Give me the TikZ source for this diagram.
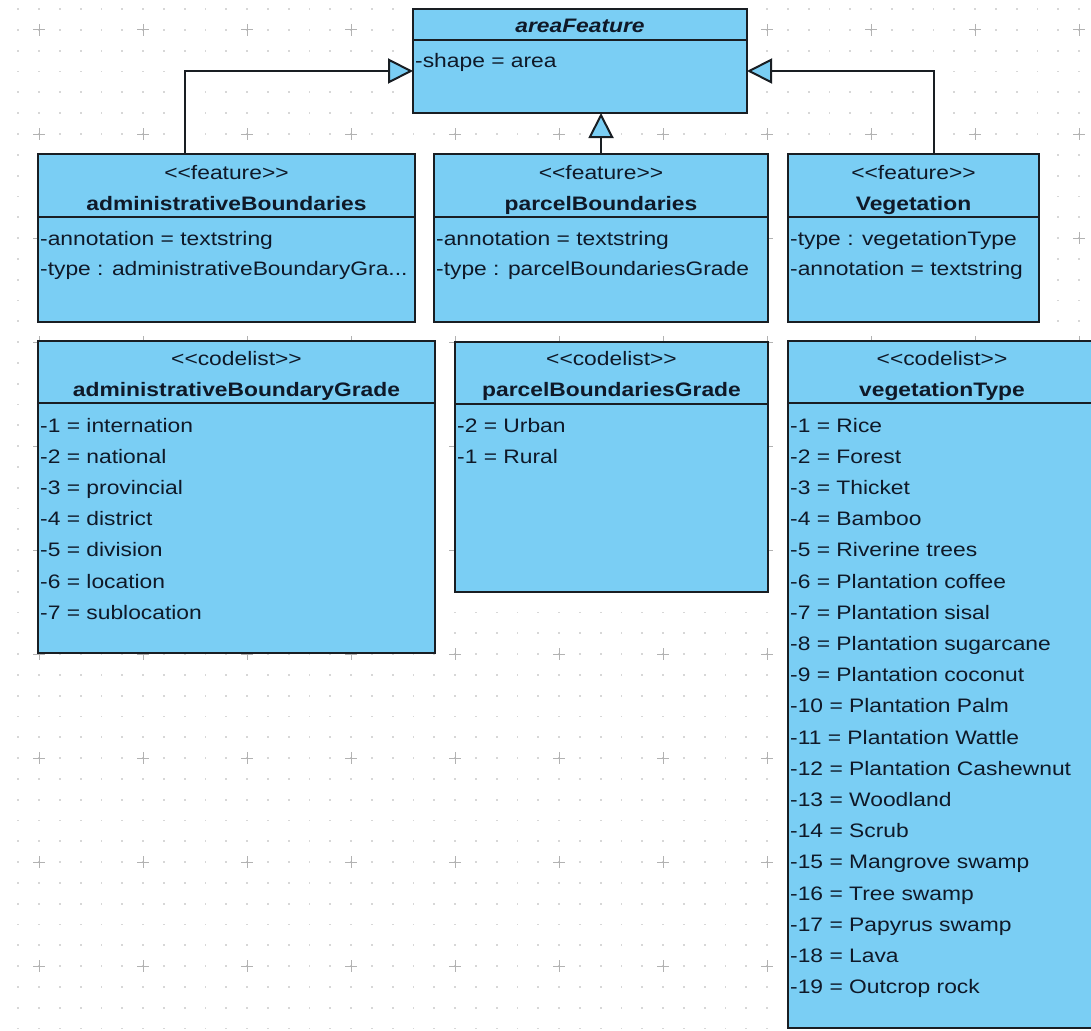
\documentclass[tikz,border=0pt]{standalone}
\usepackage{fontspec}
\setmainfont[FakeStretch=1.17]{Liberation Sans}
\usetikzlibrary{arrows.meta}
\definecolor{umlblue}{RGB}{122,206,244}
\definecolor{umlline}{RGB}{25,30,35}
\definecolor{umltext}{RGB}{15,25,40}
\definecolor{gridgray}{RGB}{215,215,215}

\tikzset{
  classbox/.style={draw=umlline, fill=umlblue, line width=2.4pt, inner sep=0pt, outer sep=0pt, anchor=north west},
  divider/.style={draw=umlline, line width=2pt},
  stereo/.style={anchor=base, inner sep=0pt, text=umltext},
  ctitle/.style={anchor=base, inner sep=0pt, text=umltext, font=\fontsize{19.5}{24}\selectfont\bfseries},
  item/.style={anchor=base west, inner sep=0pt, text=umltext},
  gen/.style={draw=umlline, line width=2pt, -{Triangle[length=25pt, width=25pt, fill=umlblue]}}
}

\begin{document}
\begin{tikzpicture}[x=1pt,y=-1pt,font=\fontsize{19.5}{24}\selectfont]
\useasboundingbox (0,0) rectangle (1091,1030);

% dotted background grid
\foreach \i in {0,...,52} {
    \foreach \j in {0,...,49} {
        \fill[gridgray] (17.3+20.8*\i, 8.3+20.8*\j) rectangle ++(1.8,1.8);
    }
}
\foreach \i in {0,...,10} {
    \foreach \j in {0,...,9} {
        \draw[gray!60, line width=1pt] (33+104*\i, 30+104*\j) -- ++(12,0) ++(-6,-6) -- ++(0,12);
    }
}

% edge and header line of each class
\foreach \n/\xa/\ya/\xb/\yb/\yd in {area/413/9/747/113/40, admB/38/154/415/322/217,
    parcelB/434/154/768/322/217, veg/788/154/1039/322/217, admGrade/38/341/435/653/403,
    parcelGrade/455/342/768/592/404, vegType/788/341/1096/1028/403} {
    \node[classbox, minimum width={(\xb-\xa)*1pt}, minimum height={(\yb-\ya)*1pt}] (\n) at (\xa,\ya) {};
    \path[divider] (\xa,\yd) -- (\xb,\yd);
}

\node[ctitle, font=\fontsize{19.5}{24}\selectfont\bfseries\itshape] (areaT) at (area.north |- 0,33) {areaFeature};
\node[item] (areaA) at (415,68) {-shape = area};

\node[stereo] (admBS) at (admB.north |- 0,179) {<{}<feature>{}>};
\node[ctitle] (admBT) at (admB.north |- 0,210) {administrativeBoundaries};
\node[item] (admB1) at (40,245) {-annotation = textstring};
\node[item] (admB2) at (40,275) {-type : administrativeBoundaryGra...};

\node[stereo] (parcelBS) at (parcelB.north |- 0,179) {<{}<feature>{}>};
\node[ctitle] (parcelBT) at (parcelB.north |- 0,210) {parcelBoundaries};
\node[item] (parcelB1) at (436,245) {-annotation = textstring};
\node[item] (parcelB2) at (436,275) {-type : parcelBoundariesGrade};

\node[stereo] (vegS) at (veg.north |- 0,179) {<{}<feature>{}>};
\node[ctitle] (vegT) at (veg.north |- 0,210) {Vegetation};
\node[item] (veg1) at (790,245) {-type : vegetationType};
\node[item] (veg2) at (790,275) {-annotation = textstring};

\node[stereo] (admGradeS) at (admGrade.north |- 0,365) {<{}<codelist>{}>};
\node[ctitle] (admGradeT) at (admGrade.north |- 0,396) {administrativeBoundaryGrade};
\foreach \t [count=\k] in {-1 = internation, -2 = national, -3 = provincial, -4 = district,
    -5 = division, -6 = location, -7 = sublocation}
    \node[item] (admGrade\k) at (40,400.8+31.2*\k) {\t};

\node[stereo] (parcelGradeS) at (parcelGrade.north |- 0,365) {<{}<codelist>{}>};
\node[ctitle] (parcelGradeT) at (parcelGrade.north |- 0,396) {parcelBoundariesGrade};
\node[item] (parcelGrade1) at (457,432) {-2 = Urban};
\node[item] (parcelGrade2) at (457,463.2) {-1 = Rural};

\node[stereo] (vegTypeS) at (vegType.north |- 0,365) {<{}<codelist>{}>};
\node[ctitle] (vegTypeT) at (vegType.north |- 0,396) {vegetationType};
\foreach \t [count=\k] in {-1 = Rice, -2 = Forest, -3 = Thicket, -4 = Bamboo, -5 = Riverine trees,
    -6 = Plantation coffee, -7 = Plantation sisal, -8 = Plantation sugarcane, -9 = Plantation coconut,
    -10 = Plantation Palm, -11 = Plantation Wattle, -12 = Plantation Cashewnut, -13 = Woodland,
    -14 = Scrub, -15 = Mangrove swamp, -16 = Tree swamp, -17 = Papyrus swamp, -18 = Lava,
    -19 = Outcrop rock}
    \node[item] (vegType\k) at (790,400.8+31.2*\k) {\t};

% generalisation arrows
\draw[gen] ([xshift=-42pt]admB.north) |- ([yshift=-10pt]area.west);
\draw[gen] (parcelB.north) -- (parcelB.north |- area.south);
\draw[gen] ([xshift=20.5pt]veg.north) |- ([yshift=-10pt]area.east);
\end{tikzpicture}
\end{document}
